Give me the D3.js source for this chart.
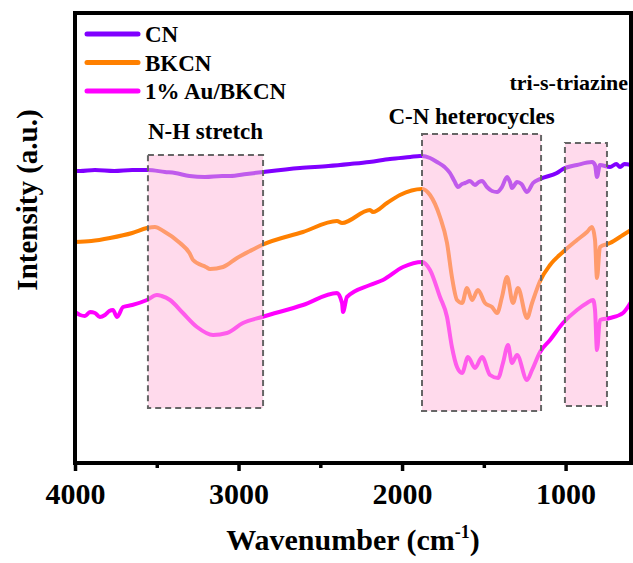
<!DOCTYPE html>
<html>
<head>
<meta charset="utf-8">
<script src="https://cdn.jsdelivr.net/npm/d3@7"></script>
<style>
  body { margin: 0; background: #fff; }
  text { font-family: 'Liberation Serif', 'Times New Roman', serif; font-weight: bold; }
</style>
</head>
<body>
<div id="chart"></div>
<script>
// wavenumber (cm-1) and intensity (a.u.)
let cnWave = [4000, 3969, 3878, 3760, 3650, 3554, 3450, 3388, 3300, 3205, 3100, 3052, 2950, 2850, 2624, 2450, 2318, 2200, 2074, 1950, 1890, 1878, 1829, 1786, 1740, 1707, 1680, 1658, 1633, 1615, 1585, 1554, 1530, 1511, 1481, 1450, 1419, 1389, 1358, 1340, 1328, 1297, 1270, 1236, 1199, 1156, 1053, 1016, 930, 838, 820, 808, 790, 728, 690, 667, 640, 600]
let cnInt = [292, 292, 293, 292, 293, 293, 291, 290, 287, 286, 287, 287, 289, 291, 295, 297, 299, 301, 304, 306, 307, 307, 305, 301, 296, 290, 282, 276, 279, 280, 282, 278, 281, 282, 276, 272, 271, 276, 286, 281, 275, 281, 279, 271, 280, 284, 290, 294, 298, 301, 298, 286, 298, 296, 299, 296, 299, 298]

let bkWave = [4000, 3900, 3786, 3650, 3560, 3511, 3460, 3358, 3300, 3278, 3200, 3174, 3095, 3009, 2930, 2857, 2606, 2398, 2367, 2196, 2178, 2092, 2013, 1878, 1829, 1768, 1725, 1695, 1664, 1633, 1603, 1572, 1536, 1493, 1450, 1419, 1389, 1358, 1322, 1291, 1236, 1205, 1156, 1095, 1016, 930, 869, 838, 820, 808, 790, 728, 649, 600]
let bkInt = [221, 222, 225, 230, 235, 236, 232, 220, 210, 203, 196, 194, 196, 205, 212, 218, 231, 242, 240, 253, 251, 260, 268, 274, 268, 246, 220, 186, 163, 160, 175, 163, 173, 160, 156, 150, 166, 186, 160, 175, 145, 160, 182, 198, 211, 223, 231, 236, 223, 185, 216, 220, 228, 233]

let auWave = [4000, 3969, 3939, 3908, 3878, 3848, 3817, 3790, 3768, 3743, 3706, 3650, 3560, 3499, 3470, 3419, 3340, 3254, 3156, 3071, 2973, 2857, 2606, 2398, 2367, 2361, 2337, 2196, 2117, 1994, 1878, 1829, 1768, 1725, 1695, 1664, 1633, 1597, 1554, 1511, 1462, 1413, 1383, 1352, 1328, 1297, 1236, 1205, 1156, 1095, 1016, 930, 869, 832, 820, 808, 790, 728, 649, 600]
let auInt = [151, 148, 147, 151, 150, 146, 148, 152, 153, 146, 156, 158, 163, 168, 167, 163, 150, 136, 128, 130, 140, 146, 158, 170, 160, 151, 166, 178, 183, 196, 201, 193, 166, 146, 116, 96, 90, 106, 95, 106, 88, 85, 100, 118, 100, 108, 83, 93, 111, 123, 140, 153, 160, 163, 153, 113, 143, 145, 150, 161]

let seriesNames = ['CN', 'BKCN', '1% Au/BKCN']
let seriesColors = ['#8000ff', '#ff8000', '#ff00ff']

// highlighted bands: wavenumber range and intensity range
let bandNames = ['N-H stretch', 'C-N heterocycles', 'tri-s-triazine']
let bandFrom = [3554, 1878, 1004]
let bandTo = [2850, 1150, 747]
let bandTop = [308, 329, 320]
let bandBottom = [55, 52, 57]

let majorTicks = [4000, 3000, 2000, 1000]
let minorTicks = [3500, 2500, 1500]

let margin = { top: 13, left: 75, right: 2, bottom: 100 }
let width = 633 - margin.left - margin.right
let height = 563 - margin.top - margin.bottom

let svg = d3
  .select('#chart')
  .append('svg')
  .attr('width', 633)
  .attr('height', 563)
  .append('g')
  .attr('transform', 'translate(' + margin.left + ',' + margin.top + ')')

let xScale = d3.scaleLinear().domain([4000, 600]).range([0, width])
let yScale = d3.scaleLinear().domain([0, 450]).range([height, 0])

let series = [
  cnWave.map((w, i) => ({ w: w, v: cnInt[i] })),
  bkWave.map((w, i) => ({ w: w, v: bkInt[i] })),
  auWave.map((w, i) => ({ w: w, v: auInt[i] }))
]

let line = d3
  .line()
  .x(d => xScale(d.w))
  .y(d => yScale(d.v))
  .curve(d3.curveMonotoneX)

svg.append('clipPath').attr('id', 'clip')
  .append('rect').attr('width', width).attr('height', height)

svg
  .selectAll('.spectrum')
  .data(series)
  .enter()
  .append('path')
  .attr('class', 'spectrum')
  .attr('d', line)
  .attr('fill', 'none')
  .attr('stroke', (d, i) => seriesColors[i])
  .attr('stroke-width', 4)
  .attr('stroke-linejoin', 'round')
  .attr('clip-path', 'url(#clip)')

// bands drawn over the lines so the lines look paler inside
svg
  .selectAll('.band')
  .data(bandNames)
  .enter()
  .append('rect')
  .attr('class', 'band')
  .attr('x', (d, i) => xScale(bandFrom[i]))
  .attr('width', (d, i) => xScale(bandTo[i]) - xScale(bandFrom[i]))
  .attr('y', (d, i) => yScale(bandTop[i]))
  .attr('height', (d, i) => yScale(bandBottom[i]) - yScale(bandTop[i]))
  .attr('fill', 'rgba(255,182,217,0.5)')
  .attr('stroke', '#666')
  .attr('stroke-width', 2)
  .attr('stroke-dasharray', '6,4')

svg.append('text')
  .text(bandNames[0])
  .attr('x', (xScale(bandFrom[0]) + xScale(bandTo[0])) / 2)
  .attr('y', yScale(bandTop[0]) - 16)
  .attr('text-anchor', 'middle')
  .attr('font-size', 23)

svg.append('text')
  .text(bandNames[1])
  .attr('x', (xScale(bandFrom[1]) + xScale(bandTo[1])) / 2 - 10)
  .attr('y', yScale(bandTop[1]) - 10)
  .attr('text-anchor', 'middle')
  .attr('font-size', 23)

svg.append('text')
  .text(bandNames[2])
  .attr('x', width - 3)
  .attr('y', yScale(bandTop[2]) - 53)
  .attr('text-anchor', 'end')
  .attr('font-size', 22)

// frame
svg.append('rect')
  .attr('width', width)
  .attr('height', height)
  .attr('fill', 'none')
  .attr('stroke', 'black')
  .attr('stroke-width', 4)

// x axis
let xAxis = d3.axisBottom(xScale)
  .tickValues(majorTicks)
  .tickSize(8)
  .tickPadding(12)
  .tickFormat(d3.format('d'))

let gx = svg.append('g')
  .attr('transform', 'translate(0,' + height + ')')
  .call(xAxis)
gx.select('.domain').remove()
gx.selectAll('.tick line').attr('stroke-width', 3.5)
gx.selectAll('.tick text')
  .attr('font-size', 30)
  .attr('fill', 'black')

let gxMinor = svg.append('g')
  .attr('transform', 'translate(0,' + height + ')')
  .call(d3.axisBottom(xScale).tickValues(minorTicks).tickSize(5).tickFormat(''))
gxMinor.select('.domain').remove()
gxMinor.selectAll('.tick line').attr('stroke-width', 3.5)

// axis titles
let xTitle = svg.append('text')
  .attr('x', width / 2)
  .attr('y', height + 87)
  .attr('text-anchor', 'middle')
  .attr('font-size', 30)
xTitle.append('tspan').text('Wavenumber (cm')
xTitle.append('tspan').text('-1').attr('font-size', 18).attr('dy', -12)
xTitle.append('tspan').text(')').attr('dy', 12)

svg.append('text')
  .text('Intensity (a.u.)')
  .attr('transform', 'translate(-38,' + (height / 2 - 38) + ') rotate(-90)')
  .attr('text-anchor', 'middle')
  .attr('font-size', 29)

// legend
let legend = svg.append('g').attr('transform', 'translate(10, 21)')

legend
  .selectAll('.legend-entry')
  .data(seriesNames)
  .enter()
  .append('g')
  .attr('class', 'legend-entry')
  .attr('transform', (d, i) => `translate(0,${i * 28.5})`)
  .each(function(d, i) {
    let g = d3.select(this)
    g.append('line')
      .attr('x1', 2)
      .attr('x2', 53)
      .attr('stroke', seriesColors[i])
      .attr('stroke-width', 5)
      .attr('stroke-linecap', 'round')
    g.append('text')
      .text(d)
      .attr('x', 60)
      .attr('dy', '0.35em')
      .attr('font-size', 23)
  })
</script>
</body>
</html>
